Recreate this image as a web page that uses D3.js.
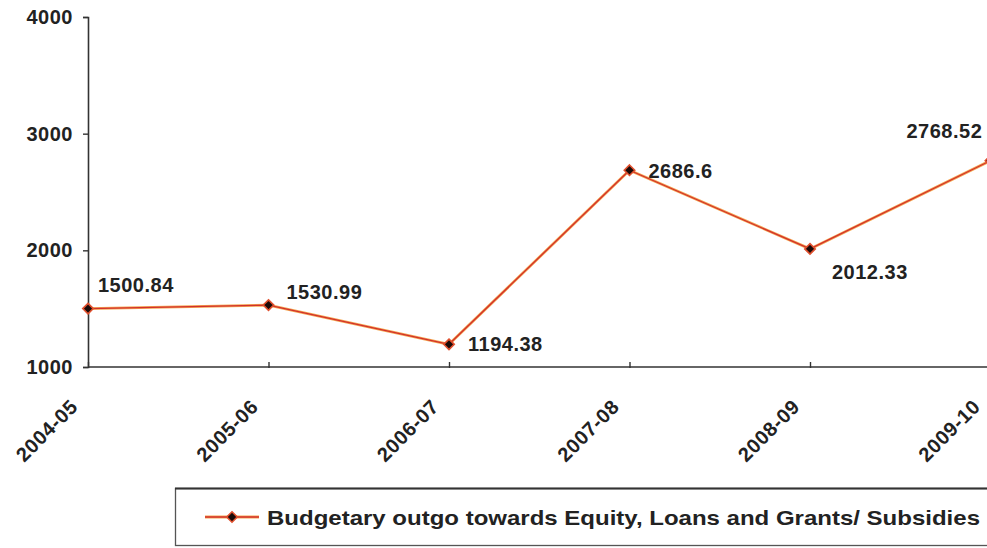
<!DOCTYPE html>
<html>
<head>
<meta charset="utf-8">
<script src="https://cdn.jsdelivr.net/npm/d3@7"></script>
<style>
  html, body { margin: 0; padding: 0; background: #fff; }
  svg { display: block; }
  text { font-family: "Liberation Sans", Arial, sans-serif; font-weight: bold; fill: #222; }
</style>
</head>
<body>
<svg id="chart" width="987" height="548"></svg>
<script>
// Budgetary outgo by financial year
const years = ["2004-05", "2005-06", "2006-07", "2007-08", "2008-09", "2009-10"];
const outgo = [1500.84, 1530.99, 1194.38, 2686.6, 2012.33, 2768.52];
const yTicks = [1000, 2000, 3000, 4000];
const seriesName = "Budgetary outgo towards Equity, Loans and Grants/ Subsidies";

const svg = d3.select("#chart");
const W = 987, H = 548;

const x = d3.scalePoint().domain(years).range([88, 990.5]);
const y = d3.scaleLinear().domain([1000, 4000]).range([367, 17]);

const axisColor = "#333";

// Y axis
const yAxis = svg.append("g")
  .attr("transform", "translate(88,0)")
  .call(d3.axisLeft(y).tickValues(yTicks).tickSize(5).tickPadding(10).tickFormat(d3.format("d")));
yAxis.select(".domain").attr("stroke", axisColor).attr("stroke-width", 1.6);
yAxis.selectAll(".tick line").attr("stroke", axisColor).attr("stroke-width", 1.4);
yAxis.selectAll(".tick text")
  .attr("font-size", 20).attr("fill", "#222")
  .style("font-family", "'Liberation Sans', Arial, sans-serif").style("font-weight", "bold")
  .attr("letter-spacing", 0.5);

// X axis
const xAxis = svg.append("g")
  .attr("transform", `translate(0,${y(1000)})`)
  .call(d3.axisBottom(x).tickSize(-5).tickSizeOuter(0).tickFormat(""));
xAxis.select(".domain").attr("d", `M88,0H${W}`).attr("stroke", axisColor).attr("stroke-width", 1.6);
xAxis.selectAll(".tick line").attr("stroke", axisColor).attr("stroke-width", 1.4).attr("y2", -5).attr("y1", 1);

// Rotated category labels
svg.append("g").selectAll("text")
  .data(years)
  .join("text")
  .attr("transform", d => `translate(${x(d) - 19},${y(1000) + 31}) rotate(-45)`)
  .attr("text-anchor", "end")
  .attr("dy", "0.71em")
  .attr("font-size", 20)
  .attr("letter-spacing", 0.6)
  .text(d => d);

// Series line: red stroke over a thin orange halo
const line = d3.line().x((d, i) => x(years[i])).y(d => y(d));
svg.append("path").datum(outgo)
  .attr("d", line).attr("fill", "none")
  .attr("stroke", "#f3a650").attr("stroke-width", 2.8).attr("stroke-linejoin", "round");
svg.append("path").datum(outgo)
  .attr("d", line).attr("fill", "none")
  .attr("stroke", "#d3302c").attr("stroke-width", 1.3).attr("stroke-linejoin", "round");

// Diamond markers
const diamond = d3.symbol().type(d3.symbolDiamond2).size(70);
svg.append("g").selectAll("path")
  .data(outgo)
  .join("path")
  .attr("transform", (d, i) => `translate(${x(years[i])},${y(d)})`)
  .attr("d", diamond)
  .attr("fill", "#1a0a08")
  .attr("stroke", "#e0502e")
  .attr("stroke-width", 1.6);

// Value labels, placed around each point
const labelOffsets = [[10, -17], [18, -6], [19, 7], [19, 8], [22, 30], [-84, -23]];
svg.append("g").selectAll("text")
  .data(outgo)
  .join("text")
  .attr("x", (d, i) => x(years[i]) + labelOffsets[i][0])
  .attr("y", (d, i) => y(d) + labelOffsets[i][1])
  .attr("font-size", 20)
  .attr("letter-spacing", 0.5)
  .text(d => d);

// Legend
const lg = svg.append("g");
lg.append("rect")
  .attr("x", 175.5).attr("y", 488.5).attr("width", 830).attr("height", 57)
  .attr("fill", "#fff").attr("stroke", "#555").attr("stroke-width", 1.3);
lg.append("line").attr("x1", 175).attr("x2", W).attr("y1", 488.5).attr("y2", 488.5)
  .attr("stroke", "#333").attr("stroke-width", 2);
lg.append("line").attr("x1", 205).attr("x2", 259).attr("y1", 517).attr("y2", 517)
  .attr("stroke", "#f3a650").attr("stroke-width", 2.8);
lg.append("line").attr("x1", 205).attr("x2", 259).attr("y1", 517).attr("y2", 517)
  .attr("stroke", "#d3302c").attr("stroke-width", 1.3);
lg.append("path").attr("transform", "translate(232,517)").attr("d", diamond)
  .attr("fill", "#1a0a08").attr("stroke", "#e0502e").attr("stroke-width", 1.6);
lg.append("text")
  .attr("x", 267).attr("y", 525)
  .attr("font-size", 21)
  .attr("textLength", 713).attr("lengthAdjust", "spacingAndGlyphs")
  .text(seriesName);
</script>
</body>
</html>
